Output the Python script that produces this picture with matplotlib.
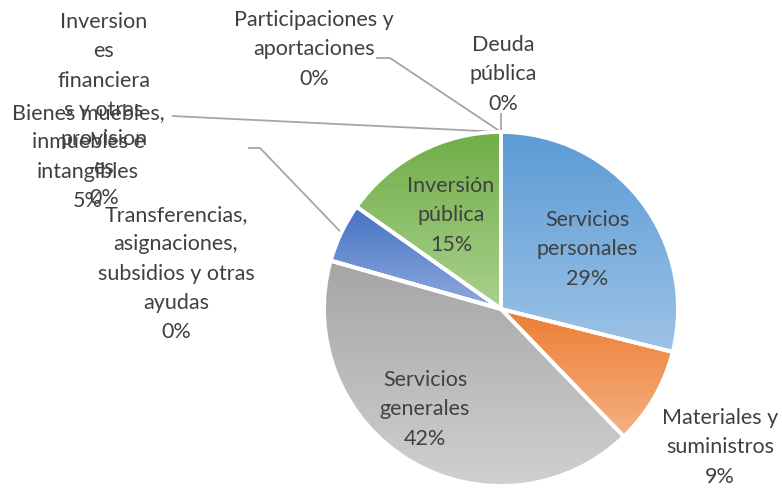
import numpy as np
import matplotlib
matplotlib.use("Agg")
import matplotlib.pyplot as plt
from matplotlib.colors import LinearSegmentedColormap

# ---- data ----
categories = [
    "Servicios personales",
    "Materiales y suministros",
    "Servicios generales",
    "Transferencias, asignaciones, subsidios y otras ayudas",
    "Bienes muebles, inmuebles e intangibles",
    "Inversión pública",
    "Inversiones financieras y otras provisiones",
    "Participaciones y aportaciones",
    "Deuda pública",
]
label_text = [
    "Servicios\npersonales",
    "Materiales y\nsuministros",
    "Servicios\ngenerales",
    "Transferencias,\nasignaciones,\nsubsidios y otras\nayudas",
    "Bienes muebles,\ninmuebles e\nintangibles",
    "Inversión\npública",
    "Inversion\nes\nfinanciera\ns y otras\nprovision\nes",
    "Participaciones y\naportaciones",
    "Deuda\npública",
]
values = [28.9, 8.9, 41.6, 0.0, 5.4, 15.2, 0.0, 0.0, 0.0]
top_colors = ["#5B9BD5", "#ED7D31", "#A5A5A5", "#A5A5A5", "#4472C4", "#70AD47", "#4472C4", "#ED7D31", "#A5A5A5"]
bot_colors = ["#9DC3E6", "#F4B183", "#D0D0D0", "#D0D0D0", "#8FAADC", "#A9D18E", "#8FAADC", "#F4B183", "#D0D0D0"]

# ---- layout (pixel space, y up) ----
W, H = 782, 488
fig = plt.figure(figsize=(W / 100, H / 100), dpi=100)
ax = fig.add_axes([0, 0, 1, 1])
cx, cy, R = 501, H - 309, 177

wedges, _ = ax.pie(values, startangle=90, counterclock=False, radius=R, center=(cx, cy),
                   wedgeprops=dict(edgecolor="white", linewidth=2.8, facecolor="none"))

grad = np.linspace(0, 1, 256).reshape(-1, 1)
for w, c0, c1 in zip(wedges, top_colors, bot_colors):
    w.set_zorder(3)
    if w.theta2 - w.theta1 <= 0:
        continue
    bb = w.get_path().get_extents(w.get_patch_transform())
    cmap = LinearSegmentedColormap.from_list("g", [c1, c0])
    im = ax.imshow(grad, cmap=cmap, extent=[bb.x0, bb.x1, bb.y0, bb.y1], origin="lower",
                   aspect="auto", zorder=2, interpolation="bilinear")
    im.set_clip_path(w)

ax.set_xlim(0, W)
ax.set_ylim(0, H)
ax.set_aspect("auto")
ax.axis("off")

total = sum(values)
pcts = [f"{round(v / total * 100):.0f}%" for v in values]

# label positions (pixel, top-origin): center x, y of each first line
label_pos = [
    (587, 220), (720, 418), (425, 380), (176, 215), (88, 113),
    (451, 186), (104, 22), (314, 20), (503, 45),
]
line_h = 29.3
font = ["Lato", "DejaVu Sans"]
for txt, p, (lx, ly) in zip(label_text, pcts, label_pos):
    lines = txt.split("\n") + [p]
    for i, ln in enumerate(lines):
        ax.text(lx, H - (ly + i * line_h), ln, ha="center", va="center",
                fontsize=15.5, color="#404040", family=font, zorder=5)

def edge_point(w):
    a = np.deg2rad((w.theta1 + w.theta2) / 2)
    return cx + R * np.cos(a), cy + R * np.sin(a)

# leader lines: (wedge index, list of start points in top-origin px)
leaders = [
    (4, [(248, 148), (260, 148)]),
    (6, [(172, 116)]),
    (7, [(376, 58), (390, 58)]),
    (8, [(501, 113)]),
]
for idx, pts in leaders:
    ex, ey = edge_point(wedges[idx])
    xs = [p[0] for p in pts] + [ex]
    ys = [H - p[1] for p in pts] + [ey]
    ax.plot(xs, ys, color="#A6A6A6", lw=1.3, zorder=1, solid_capstyle="butt")

fig.savefig("out.png", dpi=100, facecolor="white")
